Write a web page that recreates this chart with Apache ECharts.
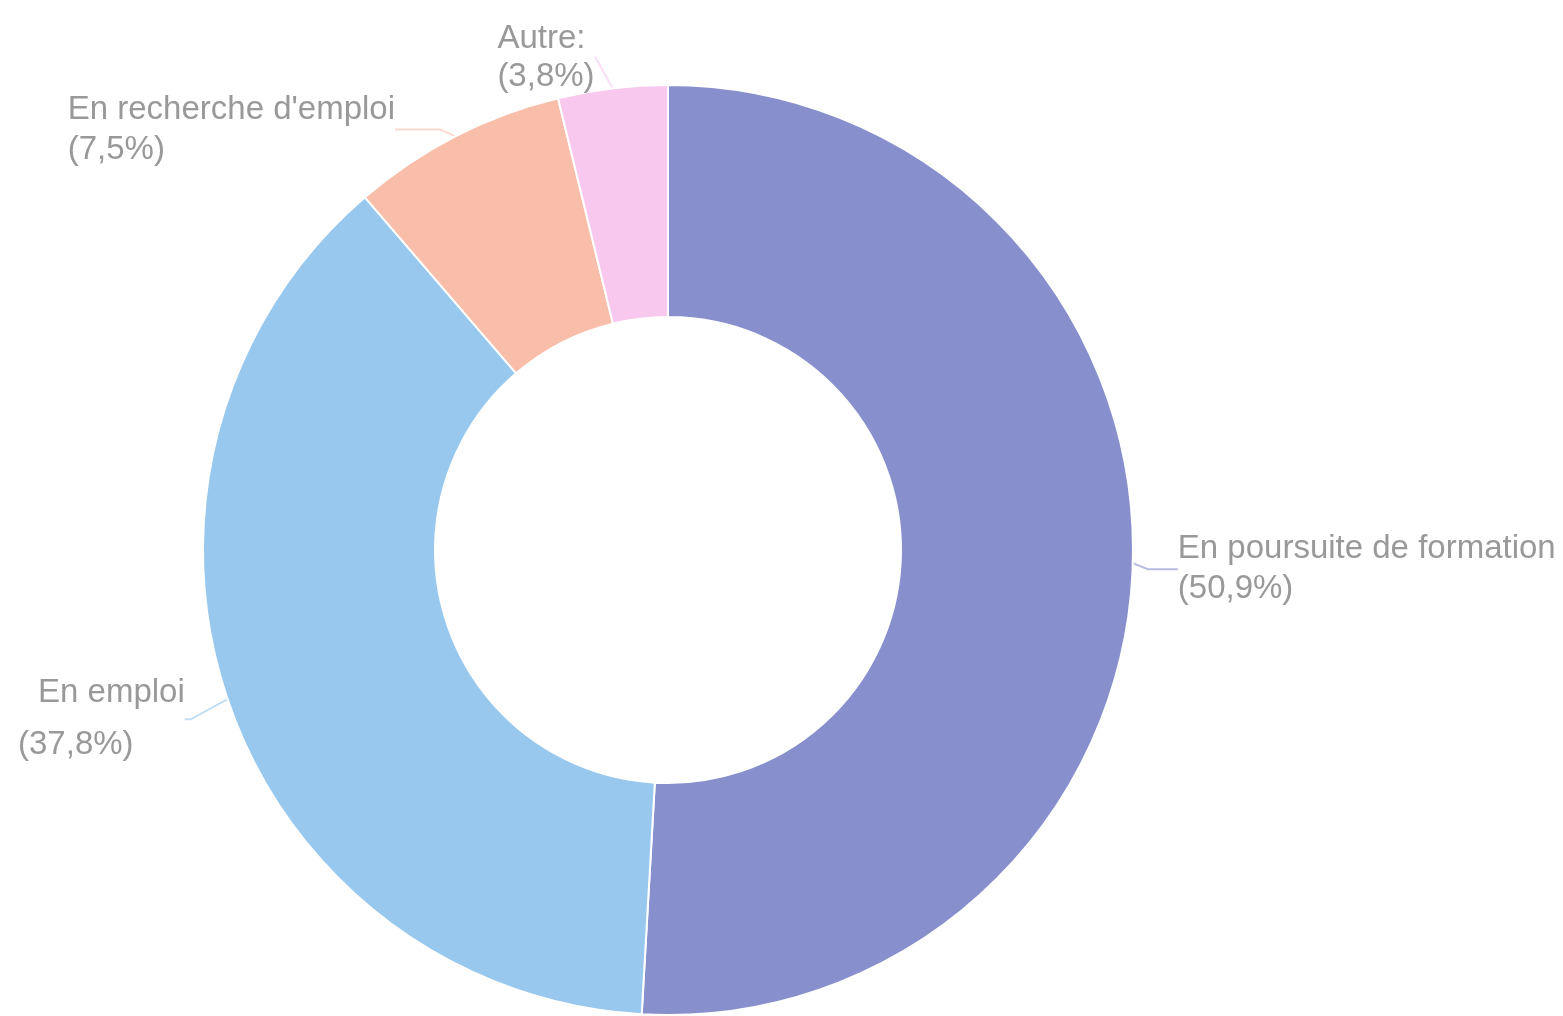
<!DOCTYPE html>
<html>
<head>
<meta charset="utf-8">
<script src="https://cdn.jsdelivr.net/npm/echarts@6/dist/echarts.min.js"></script>
<style>html,body{margin:0;padding:0;background:#fff;}#c{width:1563px;height:1016px;}</style>
</head>
<body>
<div id="c"></div>
<script>
const categories = ["En poursuite de formation", "En emploi", "En recherche d'emploi", "Autre:"];
const values = [50.9, 37.8, 7.5, 3.8];
const colors = ["#8790CD", "#99C8EE", "#F8BEAA", "#F9C8EE"];

const fmtPct = v => '(' + String(v).replace('.', ',') + '%)';
// per-slice label styling (line lengths, spacing, small nudges)
const labelCfg = [
  { len: 5, len2: 30, dist: 10, lh: 40, dx: 0, dy: 6 },
  { len: 22, len2: 6, dist: 8, lh: 52, indent: 20, dx: -8, dy: 13 },
  { len: 10, len2: 45, dist: 8, lh: 40, dx: -3, dy: 2 },
  { len: 34, len2: 1, dist: 13, lh: 38, dx: 0, dy: 3 }
];

const chart = echarts.init(document.getElementById('c'));
chart.setOption({
  animation: false,
  backgroundColor: '#fff',
  series: [{
    type: 'pie',
    center: [668, 550],
    radius: [233, 465],
    startAngle: 90,
    clockwise: true,
    avoidLabelOverlap: false,
    itemStyle: { borderColor: '#fff', borderWidth: 2 },
    label: {
      color: '#999',
      fontFamily: 'Liberation Sans, Arial, sans-serif',
      fontSize: 33,
      lineHeight: 40,
      formatter: p => {
        const c = labelCfg[p.dataIndex];
        return c.indent ? '{i|' + p.name + '}\n' + fmtPct(p.value) : p.name + '\n' + fmtPct(p.value);
      },
      rich: { i: { padding: [0, 0, 0, 20], color: '#999', fontSize: 33, fontFamily: 'Liberation Sans, Arial, sans-serif' } }
    },
    labelLayout: function (params) {
      const c = labelCfg[params.dataIndex];
      const r = params.labelRect;
      return {
        align: 'left',
        verticalAlign: 'middle',
        x: r.x + c.dx,
        y: r.y + r.height / 2 + c.dy
      };
    },
    labelLine: { lineStyle: { width: 2, opacity: 0.6 } },
    data: categories.map((n, i) => ({
      name: n,
      value: values[i],
      itemStyle: { color: colors[i] },
      label: { lineHeight: labelCfg[i].lh, distanceToLabelLine: labelCfg[i].dist },
      labelLine: { length: labelCfg[i].len, length2: labelCfg[i].len2 }
    }))
  }]
});
</script>
</body>
</html>
